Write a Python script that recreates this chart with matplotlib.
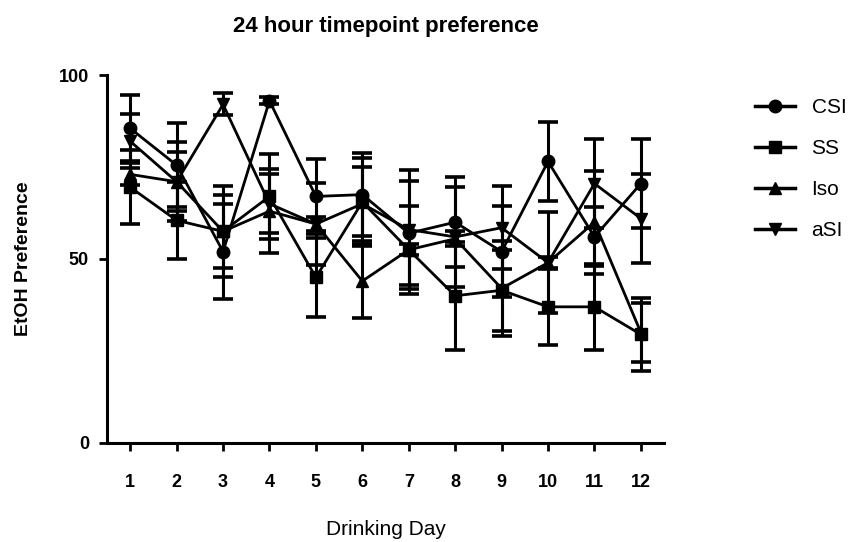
import matplotlib
matplotlib.use("Agg")
import matplotlib.pyplot as plt
from matplotlib.lines import Line2D
import numpy as np

days = np.arange(1, 13)

csi = [85.5, 75.5, 52, 93, 67, 67.5, 57, 60, 52, 76.5, 56, 70.5]
csi_err = [9, 11.5, 13, 1, 10.2, 11.3, 14.2, 12.3, 12.4, 10.8, 8, 12]
ss = [69.5, 60.5, 57.5, 67, 45, 65.5, 52.5, 40, 41.5, 37, 37, 29.5]
ss_err = [10, 10.5, 12.3, 11.5, 10.8, 12, 12, 14.7, 11, 10.3, 11.7, 10]
iso = [73, 71, 57.5, 63, 59.5, 44, 52.5, 55.5, 42, 49, 60, 30]
iso_err = [3, 8, 10, 11.4, 2, 10, 1.5, 2, 13, 13.8, 14, 8]
asi = [82, 71, 92, 65, 59.5, 65, 58, 56, 58.5, 49, 70.5, 61]
asi_err = [7.4, 10.8, 3, 8, 11.2, 10, 16.2, 13.6, 11.3, 1.5, 12, 12]

groups = ["CSI", "SS", "Iso", "aSI"]
means = [csi, ss, iso, asi]
errs = [csi_err, ss_err, iso_err, asi_err]
markers = ["o", "s", "^", "v"]

plt.rcParams['font.family'] = ['Liberation Sans', 'DejaVu Sans']

fig = plt.figure(figsize=(8.58, 5.42), dpi=100)
ax = fig.add_axes([0.1247, 0.1827, 0.6493, 0.6789])

handles = []
for name, m, e, mk in zip(groups, means, errs, markers):
    ax.errorbar(days, m, yerr=e, color='black', marker=mk, markersize=9,
                linewidth=2, elinewidth=2.2, capsize=7, capthick=2.6)
    handles.append(Line2D([], [], color='black', marker=mk, markersize=9,
                          linewidth=2.5, label=name))

ax.set_xlim(0.5, 12.5)
ax.set_ylim(0, 100)
ax.set_xticks(days)
ax.set_yticks([0, 50, 100])
ax.spines['top'].set_visible(False)
ax.spines['right'].set_visible(False)
for s in ['left', 'bottom']:
    ax.spines[s].set_linewidth(2.2)
ax.tick_params(width=2, length=6, labelsize=13)
ax.tick_params(axis='x', pad=16)
ax.tick_params(axis='y', pad=7)
for lbl in ax.get_xticklabels() + ax.get_yticklabels():
    lbl.set_fontweight('bold')

ax.set_title("24 hour timepoint preference", fontsize=16, fontweight='bold', pad=31)
ax.set_ylabel("EtOH Preference", fontsize=14, fontweight='bold', labelpad=19)
ax.set_xlabel("Drinking Day", fontsize=15, labelpad=21)

ax.legend(handles=handles, loc='upper left', bbox_to_anchor=(1.145, 0.965),
          frameon=False, fontsize=15, handlelength=1.9, handletextpad=0.8,
          labelspacing=1.05, borderpad=0)

fig.savefig("out.png", dpi=100)
